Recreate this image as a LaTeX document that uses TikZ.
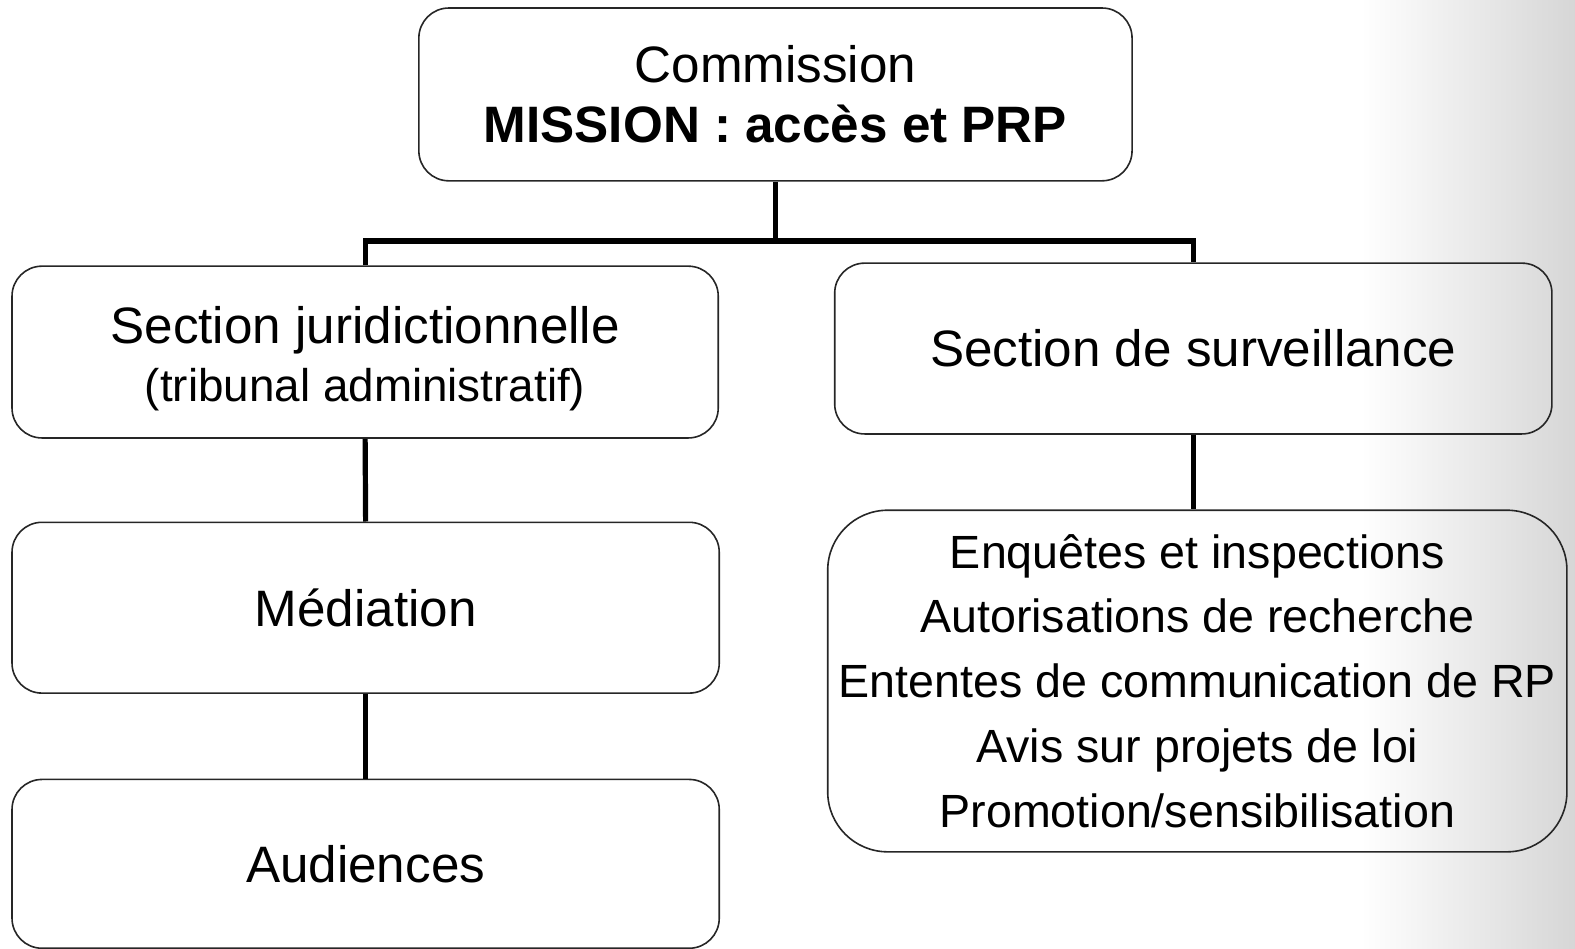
\documentclass[tikz,border=0pt]{standalone}
\usepackage{fontspec}
\setmainfont{Liberation Sans}
\begin{document}
\begin{tikzpicture}[x=0.50223pt,y=-0.50223pt,
  box/.style={draw=black!85, line width=0.8pt, rounded corners=15pt, inner sep=0pt, align=center,
    font=\fontsize{25.6}{30.1}\selectfont},
  conn/.style={draw=black, line width=2.6pt}]
\useasboundingbox (0,0) rectangle (1568,944);
\shade[left color=white, right color=black!16] (1355,0) rectangle (1568,944);
\node[box, minimum width=356.6pt, minimum height=86.4pt] (com) at (772,94)
  {Commission\\\textbf{MISSION : accès et PRP}};
\node[box, minimum width=353.1pt, minimum height=85.9pt, font=\fontsize{25.6}{29.2}\selectfont] (sj) at (363.5,350.5)
  {\rule{0pt}{25pt}Section juridictionnelle\\{\fontsize{22.9}{29.2}\selectfont (tribunal administratif)}};
\node[box, minimum width=358.6pt, minimum height=85.4pt] (ss) at (1188,347)
  {Section de surveillance};
\node[box, minimum width=353.6pt, minimum height=85.4pt] (med) at (364,605)
  {Médiation};
\node[box, minimum width=353.6pt, minimum height=84.4pt] (aud) at (364,860)
  {Audiences};
\node[box, rounded corners=30pt, minimum width=369.6pt, minimum height=170.8pt,
  font=\fontsize{23.3}{32.4}\selectfont] (lst) at (1192,678)
  {Enquêtes et inspections\\Autorisations de recherche\\Ententes de communication de RP\\Avis sur projets de loi\\Promotion/sensibilisation};
\coordinate (bus) at (com.south |- 0,240);
\draw[conn] (com.south) -- (bus);
\draw[conn] (sj.north) |- (bus) -| (ss.north);
\draw[conn] (sj.south) -- (med.north);
\draw[conn] (med.south) -- (aud.north);
\draw[conn] (ss.south) -- (ss.south |- lst.north);
\end{tikzpicture}
\end{document}
